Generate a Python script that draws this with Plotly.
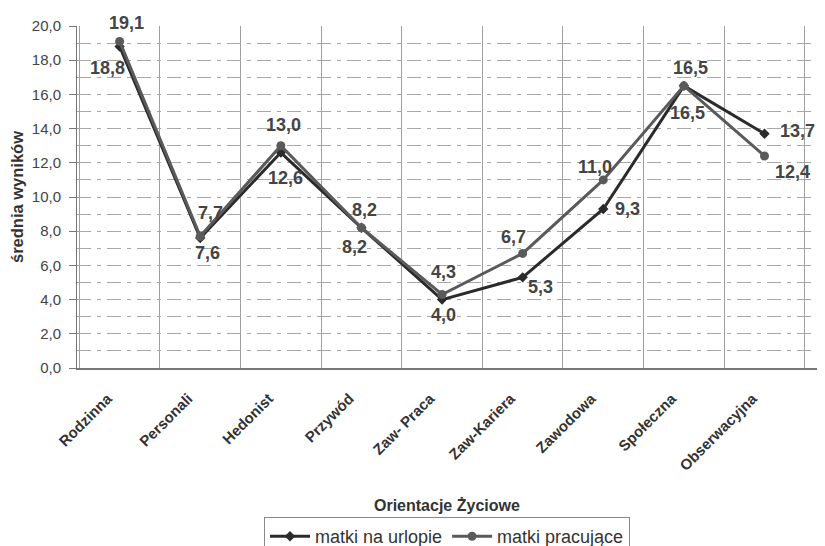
import plotly.graph_objects as go

categories = ["Rodzinna", "Personali", "Hedonist", "Przywód", "Zaw- Praca",
              "Zaw-Kariera", "Zawodowa", "Społeczna", "Obserwacyjna"]
urlop = [18.8, 7.6, 12.6, 8.2, 4.0, 5.3, 9.3, 16.5, 13.7]
pracujace = [19.1, 7.7, 13.0, 8.2, 4.3, 6.7, 11.0, 16.5, 12.4]
y_tickvals = [0, 2, 4, 6, 8, 10, 12, 14, 16, 18, 20]
y_ticktext = ["0,0", "2,0", "4,0", "6,0", "8,0", "10,0", "12,0", "14,0", "16,0", "18,0", "20,0"]
y_minor = list(range(1, 20))

def fmt(v):
    return f"{v:.1f}".replace(".", ",")

# label offsets in pixels (style only): (dx, dy) with dy positive = downward
off_urlop = [(-12, 21), (7, 15), (5, 25), (-7, 19), (1, 15), (18, 10), (24, 0), (4, 27), (33, -3)]
off_prac = [(7, -18), (10, -23), (3, -21), (3, -18), (1, -22), (-9, -16), (-8, -13), (7, -18), (28, 16)]

lblfont = dict(family="Liberation Sans, Arial", size=18, color="#444444", weight="bold")

fig = go.Figure()
fig.add_trace(go.Scatter(
    x=categories, y=urlop, name="matki na urlopie", mode="lines+markers",
    line=dict(color="#2b2b2b", width=3),
    marker=dict(symbol="diamond", size=8, color="#2b2b2b"),
))
fig.add_trace(go.Scatter(
    x=categories, y=pracujace, name="matki pracujące", mode="lines+markers",
    line=dict(color="#5a5a5a", width=3),
    marker=dict(symbol="circle", size=9, color="#5a5a5a"),
))

annotations = []
for vals, offs in ((urlop, off_urlop), (pracujace, off_prac)):
    for c, v, (dx, dy) in zip(categories, vals, offs):
        annotations.append(dict(x=c, y=v, xref="x", yref="y", text=fmt(v), showarrow=False,
                                xshift=dx, yshift=-dy, font=lblfont,
                                xanchor="center", yanchor="middle"))
annotations.append(dict(text="<b>Orientacje Życiowe</b>", x=0.5, y=-0.402, xref="paper", yref="paper",
                        showarrow=False, font=dict(size=16, color="#333333"),
                        xanchor="center", yanchor="middle"))

fig.update_layout(
    width=817, height=538,
    margin=dict(l=69, r=8, t=18, b=178, autoexpand=False),
    paper_bgcolor="white", plot_bgcolor="white",
    font=dict(family="Liberation Sans, Arial", color="#444444"),
    showlegend=True,
    legend=dict(orientation="h", x=0.5, y=-0.4357, xanchor="center", yanchor="top",
                bordercolor="#888888", borderwidth=1,
                font=dict(size=18, color="#333333"), itemwidth=40,
                tracegroupgap=0),
    annotations=annotations,
)
fig.update_xaxes(
    type="category", tickson="boundaries", showgrid=True, gridcolor="#a0a0a0", gridwidth=1,
    showline=True, linecolor="#777777", linewidth=2, mirror=False, automargin=False,
    ticks="", tickangle=-45, ticklabelstandoff=14, ticklabelshift=-12,
    tickfont=dict(size=15, color="#333333", weight="bold"),
)
fig.update_yaxes(
    range=[0, 20], tickvals=y_tickvals, ticktext=y_ticktext, automargin=False,
    showgrid=False, zeroline=False, showline=True, linecolor="#777777", linewidth=1,
    ticks="outside", ticklen=7, tickcolor="#777777", ticklabelstandoff=5,
    tickfont=dict(size=15, color="#444444"),
    title=dict(text="<b>średnia wyników</b>", font=dict(size=16.5, color="#333333"), standoff=8),
    minor=dict(tickvals=y_minor, showgrid=True, gridcolor="#a8a8a8", griddash="14px,6px,4px,6px",
               gridwidth=1, ticks=""),
)

fig.write_html("out.html")
